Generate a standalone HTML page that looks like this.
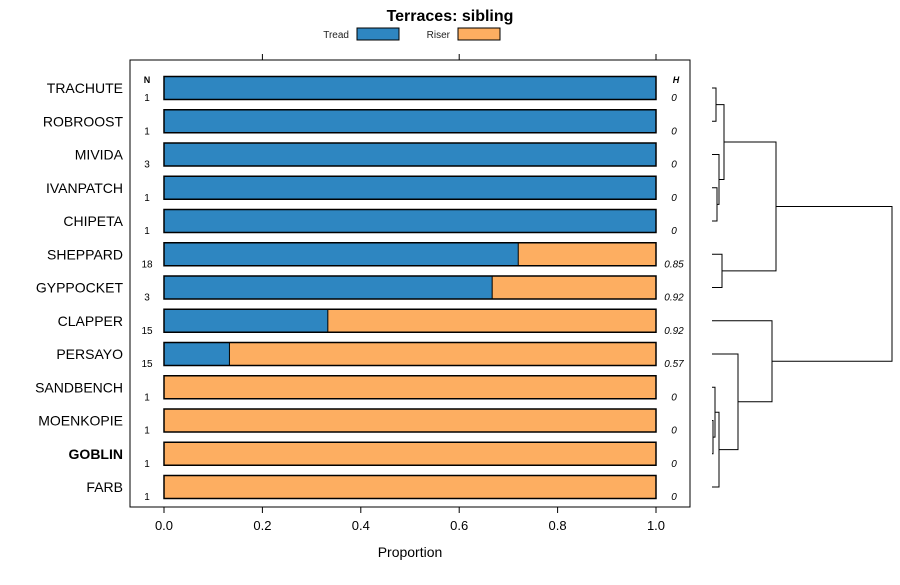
<!DOCTYPE html>
<html><head><meta charset="utf-8"><style>
body{margin:0;background:#fff;}
svg{font-family:"Liberation Sans",Arial,sans-serif;}
</style></head><body>
<svg id="c" width="900" height="580" xmlns="http://www.w3.org/2000/svg">
<text x="450" y="21" text-anchor="middle" font-size="16" font-weight="bold">Terraces: sibling</text>
<g>
<text x="349" y="38" font-size="10" text-anchor="end" fill="#222">Tread</text>
<rect x="357" y="28" width="42" height="12" fill="#2e86c1" stroke="#000"/>
<text x="450" y="38" font-size="10" text-anchor="end" fill="#222">Riser</text>
<rect x="458" y="28" width="42" height="12" fill="#fdae61" stroke="#000"/>
</g>
<rect x="130" y="60" width="560" height="447" fill="none" stroke="#000"/>
<text x="147" y="83" font-size="9" font-weight="bold" text-anchor="middle">N</text>
<text x="676" y="83" font-size="9" font-weight="bold" font-style="italic" text-anchor="middle">H</text>
<text x="410" y="557" font-size="14" text-anchor="middle">Proportion</text>
<g id="bars"></g><g id="axes"></g><g id="dendro" stroke="#000" fill="none" stroke-width="1"></g>
</svg>
<script>
const categories=["TRACHUTE","ROBROOST","MIVIDA","IVANPATCH","CHIPETA","SHEPPARD","GYPPOCKET","CLAPPER","PERSAYO","SANDBENCH","MOENKOPIE","GOBLIN","FARB"];
const treadValues=[1,1,1,1,1,0.72,0.667,0.333,0.133,0,0,0,0];
const nValues=["1","1","3","1","1","18","3","15","15","1","1","1","1"];
const hValues=["0","0","0","0","0","0.85","0.92","0.92","0.57","0","0","0","0"];
const ticks=[0,0.2,0.4,0.6,0.8,1.0];
const tickLabels=["0.0","0.2","0.4","0.6","0.8","1.0"];
const NS="http://www.w3.org/2000/svg";
const xs=v=>164+v*492;
const ys=i=>88+i*33.25;
function mk(t,a,p){const e=document.createElementNS(NS,t);for(const k in a)e.setAttribute(k,a[k]);p.appendChild(e);return e;}
const bars=document.getElementById('bars');
categories.forEach((c,i)=>{
 const y=ys(i);
 const t=treadValues[i];
 if(t>0){const r=mk('rect',{x:xs(0),y:y-11.5,width:xs(t)-xs(0),height:23,fill:'#2e86c1'},bars);
 
 }
 if(t<1){const r=mk('rect',{x:xs(t),y:y-11.5,width:xs(1)-xs(t),height:23,fill:'#fdae61'},bars);
 
 }
 if(t>0&&t<1){const l=mk('line',{x1:xs(t),x2:xs(t),y1:y-11.5,y2:y+11.5,stroke:'#000','stroke-width':1},bars);
 
 }
 const o=mk('rect',{x:xs(0),y:y-11.5,width:xs(1)-xs(0),height:23,fill:'none',stroke:'#000','stroke-width':1.5},bars);
 
 
 const lb=mk('text',{x:123,y:y+5,'font-size':14,'text-anchor':'end','font-weight':c==='GOBLIN'?'bold':'normal'},bars);
 lb.textContent=c;
 
 
 const n=mk('text',{x:147,y:y+13,'font-size':10,'text-anchor':'middle'},bars);
 n.textContent=nValues[i];
 
 
 const h=mk('text',{x:674,y:y+13,'font-size':10,'font-style':'italic','text-anchor':'middle'},bars);
 h.textContent=hValues[i];
 
 
});
const ax=document.getElementById('axes');
ticks.forEach((v,i)=>{
 const x=xs(v);
 const t1=mk('line',{x1:x,x2:x,y1:507,y2:513,stroke:'#000'},ax);
 
 
 if(i%2===1){const t2=mk('line',{x1:x,x2:x,y1:54,y2:60,stroke:'#000'},ax);
 
 }
 const tl=mk('text',{x:x,y:530,'font-size':13,'text-anchor':'middle'},ax);
 tl.textContent=tickLabels[i];
 
 
});
// dendrogram segments: [y1, y2, mergeX, x1(left of y1), x2(left of y2)]
const dd=document.getElementById('dendro');
const L=712;
function br(ya,xa,yb,xb,xm){
 const p=mk('path',{d:`M${xa},${ya}H${xm}V${yb}H${xb}`},dd);
 
 
 return (ya+yb)/2;
}
const a=br(ys(0),L,ys(1),L,716);
const b=br(ys(3),L,ys(4),L,717);
const c2=br(ys(2),L,b,717,719);
const d=br(a,716,c2,719,724);
const e=br(ys(5),L,ys(6),L,722);
const f=br(d,724,e,722,776);
const g=br(ys(10),L,ys(11),L,713);
const h2=br(ys(9),L,g,713,715);
const i2=br(h2,715,ys(12),L,719);
const j=br(ys(8),L,i2,719,738);
const k=br(ys(7),L,j,738,772);
br(f,776,k,772,892);
</script>
</body></html>
